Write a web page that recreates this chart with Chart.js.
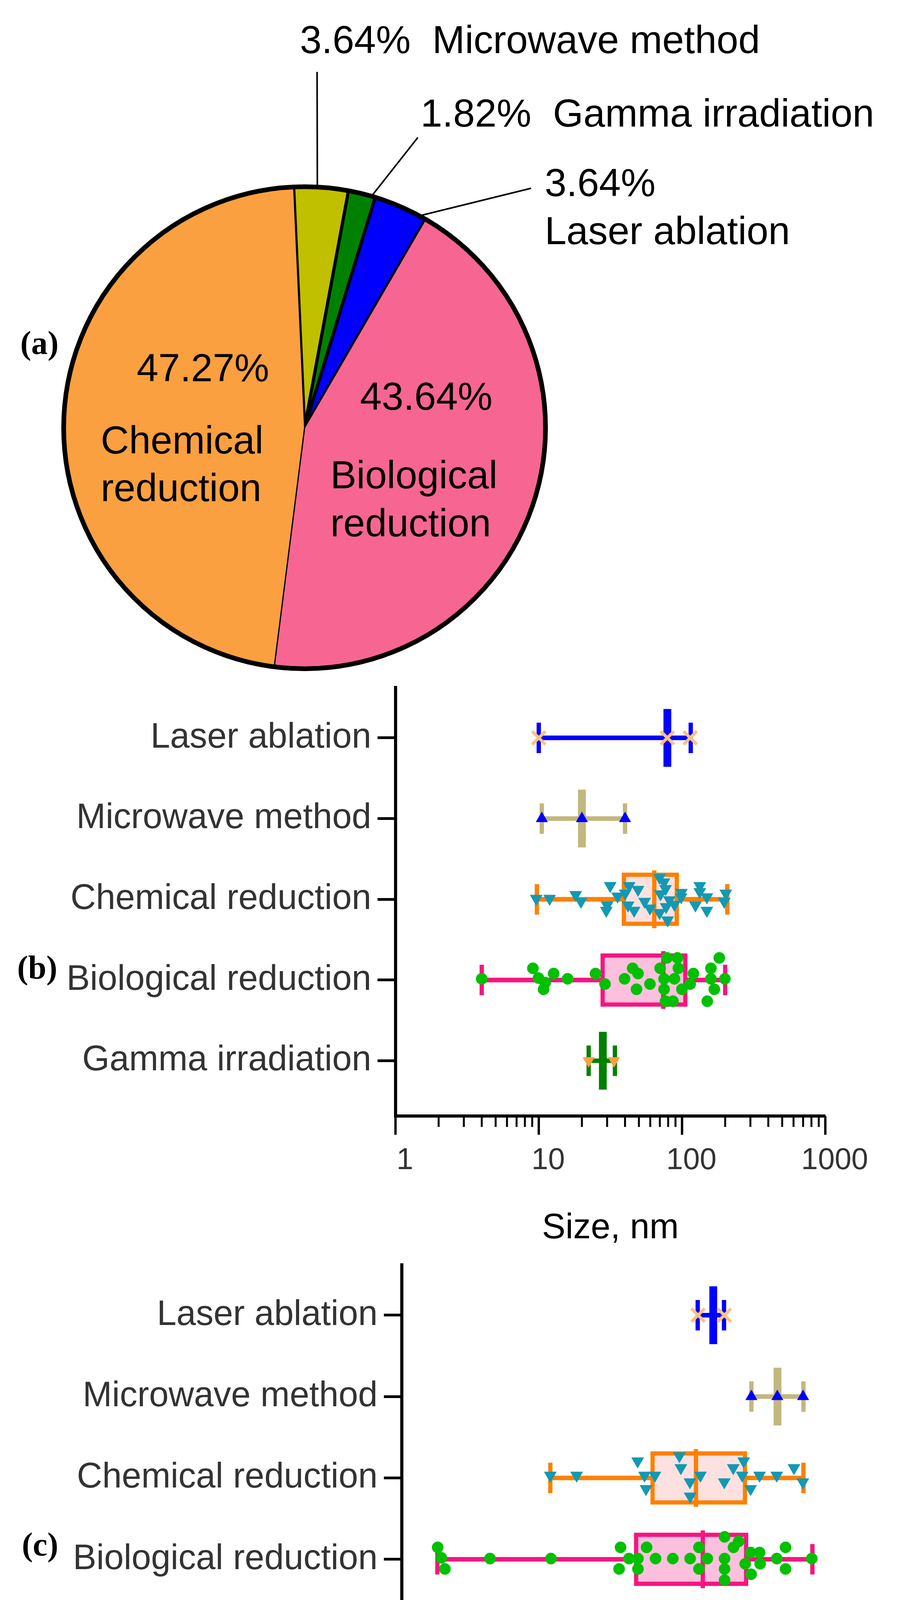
<!DOCTYPE html>
<html>
<head>
<meta charset="utf-8">
<title>Silver nanoparticle synthesis methods</title>
<script src="https://cdn.jsdelivr.net/npm/chart.js@4.4.1/dist/chart.umd.min.js"></script>
<style>
  html, body { margin: 0; padding: 0; background: #fff; }
  #page { position: relative; width: 2315px; height: 4719px; overflow: hidden; }
  canvas { position: absolute; left: 0; }
</style>
</head>
<body>
<div id="page">
  <canvas id="pie" width="2315" height="1750" style="top:0px"></canvas>
  <canvas id="size" width="2315" height="1480" style="top:1750px"></canvas>
  <canvas id="mic" width="2315" height="1489" style="top:3230px"></canvas>
</div>
<script>
// rows of panels (b) and (c), top to bottom
const methods = ["Laser ablation", "Microwave method", "Chemical reduction", "Biological reduction", "Gamma irradiation"];

// (a) share of each method, %, clockwise from the top
const pieMethods = ["Microwave method", "Gamma irradiation", "Laser ablation", "Biological reduction", "Chemical reduction"];
const pieShares = [3.64, 1.82, 3.64, 43.64, 47.27];

// (b) particle size, nm
const sizeTicks = [1, 10, 100, 1000];
const sizeMin = [10, 10.5, 9.7, 4.0, 22.3];
const sizeMax = [115, 40, 207, 200, 34];
const sizeMedian = [79, 20, 64, 74, 28];
const sizeQ1 = [null, null, 38, 27, null];
const sizeQ3 = [null, null, 95, 109, null];
const sizeLaser = [10, 79, 114];
const sizeMicrowave = [10.5, 20, 40];
const sizeChemical = [9.6, 11.9, 18.1, 19.7, 31.5, 30.0, 29.6, 35.5, 40.1, 42.7, 49.3, 42.0, 46.3, 54.8, 59.7,
  69.7, 74.8, 76.7, 70.7, 81.6, 88.5, 77.4, 69.7, 79.3, 98.9, 98.5, 124, 133, 133, 149, 149, 202, 197];
const sizeChemicalJitter = [-0.01, -0.01, -0.056, 0.028, -0.167, 0.074, 0.139, -0.037, -0.074, -0.167, -0.12, 0.074, 0.139, 0.028, 0.111,
  -0.269, -0.213, -0.13, -0.065, 0.009, 0.065, 0.093, 0.167, 0.259, -0.083, -0.028, 0.074, -0.167, -0.093, -0.028, 0.139, -0.074, 0.028];
const sizeBiological = [4.0, 9.1, 9.95, 11.1, 10.8, 12.7, 15.9, 24.9, 29.0, 39.7, 45.2, 49.3, 48.1, 59.7, 70.3, 78.5,
  92.9, 94.3, 74.9, 88.5, 74.9, 99.8, 76.7, 86.4, 120, 114, 159, 159, 182, 168, 150, 199];
const sizeBiologicalJitter = [-0.015, -0.145, -0.024, 0.032, 0.115, -0.08, -0.015, -0.08, 0.05, -0.015, -0.145, -0.08, 0.115, 0.05, -0.145, -0.274,
  -0.274, -0.145, -0.015, -0.015, 0.115, 0.115, 0.263, 0.263, -0.08, 0.05, -0.145, -0.015, -0.274, 0.115, 0.263, -0.015];
const sizeGamma = [22.3, 33.5];

// (c) MIC, ug/ml
const micTicks = [0.01, 0.1, 1, 10, 100, 1000];
const micMin = [24.3, 100, 0.5, 0.0255, 0.5];
const micMax = [48.6, 394, 394, 499, 0.5];
const micMedian = [36.6, 199, 23.2, 27.8, 0.5];
const micQ1 = [null, null, 7.0, 4.54, null];
const micQ3 = [null, null, 89.1, 91.9, null];
const micLaser = [24.5, 49];
const micMicrowave = [100, 198, 390];
const micChemical = [0.5, 1.0, 4.99, 5.98, 7.87, 6.22, 15.0, 15.6, 19.8, 19.9, 26.1, 48.9, 62, 81.6, 78.5, 97.9, 124, 195, 307, 388];
const micChemicalJitter = [-0.031, -0.031, -0.206, -0.031, -0.031, 0.134, -0.27, -0.123, 0.051, 0.226, -0.031, 0.051, -0.123, -0.206,
  -0.031, 0.134, -0.031, -0.031, -0.123, 0.051];
const micBiological = [0.0257, 0.0283, 0.0311, 0.102, 0.508, 3.18, 3.06, 3.97, 5.03, 6.32, 5.03, 8.0, 12.6, 19.9, 25.1, 25.1,
  31.3, 49.3, 49.3, 49.3, 49.3, 62.4, 71.5, 97.9, 124, 84.9, 126, 99.3, 195, 246, 246, 491];
const micBiologicalJitter = [-0.147, -0.018, 0.119, -0.009, -0.009, -0.147, 0.119, -0.009, -0.009, -0.147, 0.119, -0.009, -0.009, -0.009, -0.147, 0.119,
  -0.009, -0.276, -0.009, 0.119, 0.257, -0.147, -0.22, -0.083, -0.083, 0.055, 0.055, 0.184, -0.009, -0.147, 0.119, -0.009];
const micGamma = [0.5];

// styles
const FONT = '"Liberation Sans", Arial, Helvetica, sans-serif';
const SERIF = '"Liberation Serif", "Times New Roman", serif';
Chart.defaults.font.family = FONT;
Chart.defaults.color = "#333333";

const pieColors = ["#c0c000", "#008000", "#0000ff", "#f76692", "#fba040"];
const rowColors = ["#0000ff", "#c2b77d", "#ff8000", "#f7157f", "#008000"];
const boxFills = [null, null, "#fde1e1", "#fcc0de", null];
const markers = [
  { style: "crossRot", color: "#ffc080", radius: 24, border: 8 },
  { style: "triangle", color: "#0000ff", radius: 17, border: 1 },
  { style: "triangle", rotation: 180, color: "#1399b2", radius: 18, border: 1 },
  { style: "circle", color: "#00c000", radius: 14.5, border: 1 },
  { style: "triangle", rotation: 180, color: "#fba040", radius: 17, border: 1 }
];

// where the pie captions sit (left x, baselines) and where leader lines start
const pieCaptions = [
  { x: 768, y: [136], leader: [812, 184, 0.43] },
  { x: 1077, y: [324], leader: [1070, 352, 0.86] },
  { x: 1395, y: [502, 625], leader: [1360, 482, 0.87] },
  { x: [922, 846, 846], y: [1049, 1250, 1373] },
  { x: [350, 258, 258], y: [976, 1161, 1283] }
];

function isDecade(v) {
  const e = Math.log10(v);
  return Math.abs(e - Math.round(e)) < 1e-6;
}

function logTickValues(decades) {
  const out = [];
  for (let i = 0; i < decades.length - 1; i++) {
    for (let m = 1; m <= 9; m++) out.push(Number((decades[i] * m).toPrecision(6)));
  }
  out.push(decades[decades.length - 1]);
  return out;
}

function noPadding(s) {
  s.paddingTop = 0;
  s.paddingBottom = 0;
  s.paddingLeft = 0;
  s.paddingRight = 0;
}

function letterPlugin(text, x, y) {
  return {
    id: "letter",
    afterDraw(chart) {
      const ctx = chart.ctx;
      ctx.save();
      ctx.fillStyle = "#000";
      ctx.font = "bold 84px " + SERIF;
      ctx.textBaseline = "alphabetic";
      ctx.fillText(text, x, y);
      ctx.restore();
    }
  };
}

// minor ticks are shorter than the decade ticks
const logTicksPlugin = {
  id: "logTicks",
  afterDraw(chart) {
    const sc = chart.scales.x;
    const ctx = chart.ctx;
    ctx.save();
    ctx.strokeStyle = "#000";
    sc.ticks.forEach((t) => {
      const px = sc.getPixelForValue(t.value);
      const major = isDecade(t.value);
      ctx.lineWidth = major ? 6 : 5;
      ctx.beginPath();
      ctx.moveTo(px, sc.top);
      ctx.lineTo(px, sc.top + (major ? 48 : 28));
      ctx.stroke();
    });
    ctx.restore();
  }
};

const piePlugin = {
  id: "pieText",
  afterDatasetsDraw(chart) {
    const ctx = chart.ctx;
    const a0 = chart.getDatasetMeta(0).data[0];
    ctx.save();
    ctx.strokeStyle = "#000";
    ctx.lineWidth = 12;
    ctx.beginPath();
    ctx.arc(a0.x, a0.y, a0.outerRadius, 0, Math.PI * 2);
    ctx.stroke();
    ctx.restore();
  },
  afterDraw(chart) {
    const ctx = chart.ctx;
    const arcs = chart.getDatasetMeta(0).data;
    ctx.save();
    ctx.fillStyle = "#000";
    ctx.strokeStyle = "#000";
    ctx.font = "100px " + FONT;
    ctx.textBaseline = "alphabetic";
    pieCaptions.forEach((c, i) => {
      const pct = pieShares[i].toFixed(2) + "%";
      const name = pieMethods[i];
      let lines;
      if (c.y.length === 1) lines = [pct + "  " + name];
      else if (c.y.length === 2) lines = [pct, name];
      else lines = [pct].concat(name.split(" "));
      lines.forEach((t, k) => ctx.fillText(t, Array.isArray(c.x) ? c.x[k] : c.x, c.y[k]));
      if (c.leader) {
        const arc = arcs[i];
        const ang = arc.startAngle + c.leader[2] * (arc.endAngle - arc.startAngle);
        ctx.lineWidth = 4;
        ctx.beginPath();
        ctx.moveTo(c.leader[0], c.leader[1]);
        ctx.lineTo(arc.x + arc.outerRadius * Math.cos(ang), arc.y + arc.outerRadius * Math.sin(ang));
        ctx.stroke();
      }
    });
    ctx.font = "bold 84px " + SERIF;
    ctx.fillText("(a)", 52, 906);
    ctx.restore();
  }
};

new Chart(document.getElementById("pie"), {
  type: "pie",
  data: {
    labels: pieMethods,
    datasets: [{
      data: pieShares,
      backgroundColor: pieColors,
      borderColor: "#000",
      borderWidth: [8, 8, 8, 3, 3],
      hoverOffset: 0,
      hoverBorderWidth: [8, 8, 8, 3, 3]
    }]
  },
  options: {
    responsive: false,
    animation: false,
    events: [],
    devicePixelRatio: 1,
    rotation: -2.6,
    layout: { padding: { left: 159, top: 474, right: 914, bottom: 34 } },
    plugins: { legend: { display: false }, tooltip: { enabled: false } }
  },
  plugins: [piePlugin]
});

function rangeChart(id, p) {
  const rows = methods.map((_, i) => i);
  const boxRows = rows.filter((i) => p.q1[i] !== null);
  const datasets = [];

  // whiskers, min to max
  datasets.push({
    type: "bar", indexAxis: "y", grouped: false, order: 10,
    data: rows.map((i) => ({ y: i, x: [p.min[i], p.max[i]] })),
    backgroundColor: rows.map((i) => rowColors[i]),
    borderWidth: 0, barThickness: 11
  });

  // boxes, q1 to q3
  datasets.push({
    type: "bar", indexAxis: "y", grouped: false, order: 9,
    data: boxRows.map((i) => ({ y: i, x: [p.q1[i], p.q3[i]] })),
    backgroundColor: boxRows.map((i) => boxFills[i]),
    borderColor: boxRows.map((i) => rowColors[i]),
    borderWidth: 11, borderSkipped: false, barThickness: 136
  });

  // whisker caps
  datasets.push({
    type: "scatter", order: 8,
    data: rows.flatMap((i) => [{ x: p.min[i], y: i }, { x: p.max[i], y: i }]),
    pointStyle: "line", pointRotation: 90, pointRadius: 39, pointBorderWidth: 11,
    pointBorderColor: rows.flatMap((i) => [rowColors[i], rowColors[i]])
  });

  // medians
  datasets.push({
    type: "scatter", order: 7,
    data: rows.map((i) => ({ x: p.median[i], y: i })),
    pointStyle: "line", pointRotation: 90, pointRadius: 74,
    pointBorderWidth: rows.map((i) => (p.q1[i] === null ? 20 : 11)),
    pointBorderColor: rows.map((i) => rowColors[i])
  });

  p.points.forEach((vals, i) => {
    const m = markers[i];
    const jit = p.jitter[i];
    datasets.push({
      type: "scatter", order: 0,
      data: vals.map((v, k) => ({ x: v, y: i + (jit ? jit[k] : 0) })),
      pointStyle: m.style, pointRotation: m.rotation || 0, pointRadius: m.radius,
      pointBackgroundColor: m.color, pointBorderColor: m.color, pointBorderWidth: m.border
    });
  });

  new Chart(document.getElementById(id), {
    type: "bar",
    data: { datasets },
    options: {
      responsive: false,
      animation: false,
      events: [],
      devicePixelRatio: 1,
      layout: { autoPadding: false, padding: { left: 0, top: p.top, right: p.right, bottom: 0 } },
      plugins: { legend: { display: false }, tooltip: { enabled: false } },
      scales: {
        x: {
          type: "logarithmic",
          position: "bottom",
          min: p.ticks[0],
          max: p.ticks[p.ticks.length - 1],
          offset: false,
          afterBuildTicks: (s) => { s.ticks = logTickValues(p.ticks).map((v) => ({ value: v })); },
          afterFit: (s) => { s.height = p.axisHeight; noPadding(s); },
          ticks: {
            autoSkip: false, maxRotation: 0, minRotation: 0,
            padding: p.labelPad, labelOffset: 24,
            color: "#333333", font: { size: 77 },
            callback: (v) => (isDecade(v) ? String(p.ticks.find((t) => Math.abs(Math.log10(t / v)) < 1e-6)) : "")
          },
          grid: { drawOnChartArea: false, offset: false, tickLength: 48, tickColor: "rgba(0,0,0,0)" },
          border: { display: true, color: "#000", width: 8 },
          title: { display: true, text: p.title, color: "#000", font: { size: 90 }, padding: { top: 0, bottom: p.titlePad } }
        },
        y: {
          type: "linear",
          reverse: true,
          min: p.yMin,
          max: p.yMax,
          offset: false,
          afterBuildTicks: (s) => { s.ticks = rows.map((i) => ({ value: i })); },
          afterFit: (s) => { s.width = p.left; noPadding(s); },
          ticks: {
            autoSkip: false, padding: 16, color: "#333333", font: { size: 90 },
            callback: (v) => methods[v]
          },
          grid: { drawOnChartArea: false, offset: false, tickLength: 46, tickWidth: 7, tickColor: "#000" },
          border: { display: true, color: "#000", width: 8 }
        }
      }
    },
    plugins: [logTicksPlugin, letterPlugin(p.letter, p.letterX, p.letterY)]
  });
}

rangeChart("size", {
  ticks: sizeTicks, min: sizeMin, max: sizeMax, median: sizeMedian, q1: sizeQ1, q3: sizeQ3,
  points: [sizeLaser, sizeMicrowave, sizeChemical, sizeBiological, sizeGamma],
  jitter: [null, null, sizeChemicalJitter, sizeBiologicalJitter, null],
  title: "Size, nm",
  left: 1012.8, right: 201.5, top: 10, axisHeight: 373,
  yMin: -0.624, yMax: 4.685, labelPad: 21, titlePad: 31,
  letter: "(b)", letterX: 44, letterY: 755
});

rangeChart("mic", {
  ticks: micTicks, min: micMin, max: micMax, median: micMedian, q1: micQ1, q3: micQ3,
  points: [micLaser, micMicrowave, micChemical, micBiological, micGamma],
  jitter: [null, null, micChemicalJitter, micBiologicalJitter, null],
  title: "MIC, \u00b5g/ml",
  left: 1029.1, right: 167, top: 8, axisHeight: 379,
  yMin: -0.619, yMax: 4.672, labelPad: 20, titlePad: 33,
  letter: "(c)", letterX: 56, letterY: 752
});
</script>
</body>
</html>
